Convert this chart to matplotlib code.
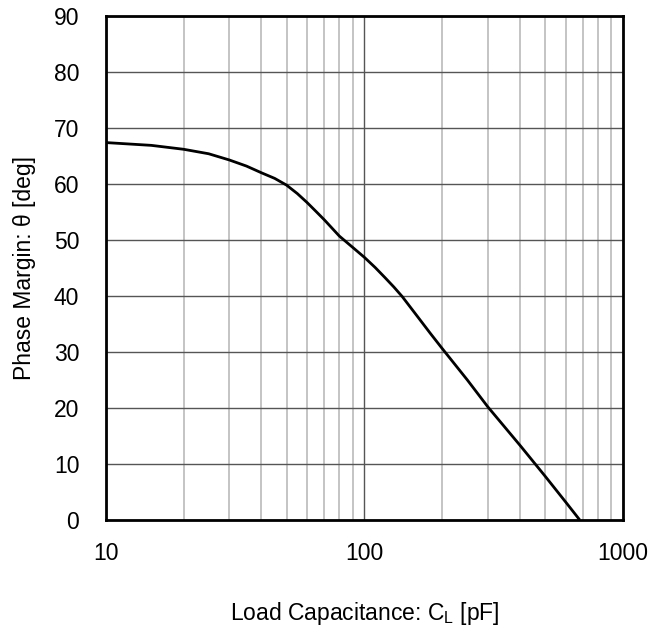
import numpy as np
import matplotlib
matplotlib.use("Agg")
import matplotlib.pyplot as plt
from matplotlib.ticker import FixedLocator, NullFormatter

plt.rcParams['font.family'] = ['Liberation Sans', 'DejaVu Sans']
plt.rcParams['mathtext.fontset'] = 'custom'
plt.rcParams['mathtext.rm'] = 'Liberation Sans'
plt.rcParams['mathtext.it'] = 'Liberation Sans'

# phase margin vs load capacitance
cap_pf = [10, 15, 20, 25, 30, 35, 40, 45, 50, 55, 60, 65, 70, 80, 90, 100,
          110, 120, 130, 140, 160, 180, 200, 250, 300, 400, 500, 600, 680]
phase_deg = [67.4, 66.9, 66.2, 65.4, 64.3, 63.2, 62.0, 61.0, 59.8, 58.3, 56.7, 55.1, 53.6, 50.7, 48.7, 46.9,
             45.1, 43.3, 41.6, 39.9, 36.4, 33.3, 30.6, 25.0, 20.2, 13.3, 7.8, 3.2, 0.0]

x_ticks = [10, 100, 1000]
y_ticks = [0, 10, 20, 30, 40, 50, 60, 70, 80, 90]

fig = plt.figure(figsize=(6.65, 6.3), dpi=100)
ax = fig.add_axes([0.159, 0.1746, 0.778, 0.8])

ax.set_xscale('log')
ax.set_xlim(10, 1000)
ax.set_ylim(0, 90)

minor = [m * d for d in (10, 100) for m in range(2, 10)]
ax.xaxis.set_major_locator(FixedLocator(x_ticks))
ax.xaxis.set_minor_locator(FixedLocator(minor))
ax.xaxis.set_minor_formatter(NullFormatter())
ax.set_xticklabels([str(t) for t in x_ticks])
ax.set_yticks(y_ticks)

ax.grid(True, which='minor', axis='x', color='#c4c4c4', lw=1.4)
ax.grid(True, which='major', axis='x', color='#555555', lw=1.0)
ax.grid(True, which='major', axis='y', color='#555555', lw=1.0)
ax.set_axisbelow(True)

ax.plot(cap_pf, phase_deg, color='black', lw=2, solid_capstyle='butt', solid_joinstyle='round')

for s in ax.spines.values():
    s.set_linewidth(2)
    s.set_color('black')
ax.tick_params(which='both', length=0, labelsize=16.5)
ax.tick_params(axis='x', pad=16)
ax.tick_params(axis='y', pad=19)

ax.set_xlabel('Load Capacitance: C$_\\mathregular{L}$ [pF]', fontsize=16.5, labelpad=25)
ax.set_ylabel('Phase Margin: \u03b8 [deg]', fontsize=16.5, labelpad=13)

fig.savefig('out.png', dpi=100)
